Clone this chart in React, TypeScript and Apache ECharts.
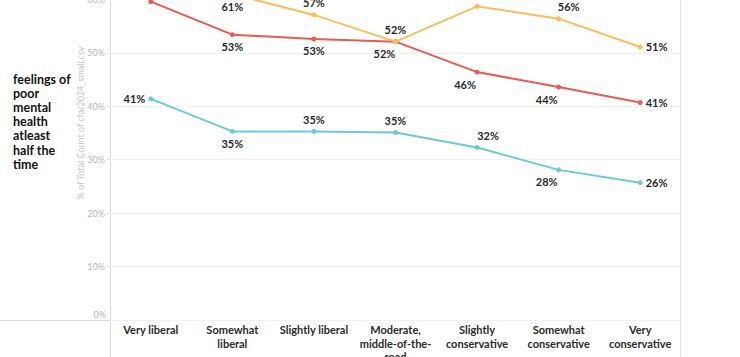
import React, { useEffect, useRef } from "react";
import * as echarts from "echarts";

const categories = [
  "Very liberal",
  "Somewhat\nliberal",
  "Slightly liberal",
  "Moderate,\nmiddle-of-the-\nroad",
  "Slightly\nconservative",
  "Somewhat\nconservative",
  "Very\nconservative",
];
const blueValues = [41.4, 35.3, 35.3, 35.1, 32.3, 28.1, 25.7];
const redValues = [59.6, 53.4, 52.6, 52.1, 46.4, 43.6, 40.7];
const orangeValues = [64.5, 61.0, 57.1, 52.1, 58.7, 56.4, 51.1];
const yTicks = [0, 10, 20, 30, 40, 50, 60, 70];

const rowHeader = "feelings of\npoor\nmental\nhealth\natleast\nhalf the\ntime";
const axisTitle = "% of Total Count of cfar2024_small.csv";

// label placement (style only)
const bluePlace: [string, number][] = [["left", 0], ["bottom", 0], ["top", 0], ["top", 0], ["top", 11], ["bottom", -12], ["right", 0]];
const redPlace: [string, number][] = [["top", 0], ["bottom", 0], ["bottom", 0], ["bottom", -11], ["bottom", -12], ["bottom", -12], ["right", 0]];
const orangePlace: [string, number][] = [["top", 0], ["bottom", 0], ["top", 0], ["top", 0], ["top", 0], ["top", 10], ["right", 0]];

const OFF = 60; // chart div shifted up
const FONT = "Lato, 'Open Sans', sans-serif";

function makeSeries(name: string, values: number[], color: string, place: [string, number][]) {
  return {
    name,
    type: "line",
    data: values.map((v, i) => ({
      value: v,
      label: {
        position: place[i][0],
        offset: [place[i][1], 0],
        distance: place[i][0] === "left" || place[i][0] === "right" ? 3 : 4,
      },
    })),
    symbol: "circle",
    symbolSize: 5,
    itemStyle: { color },
    lineStyle: { color, width: 2 },
    label: {
      show: true,
      formatter: (p: any) => Math.round(p.value) + "%",
      color: "#2a2a2a",
      fontWeight: "bold",
      fontSize: 11,
      fontFamily: FONT,
    },
  };
}

export default function App() {
  const ref = useRef<HTMLDivElement>(null);
  useEffect(() => {
    if (!ref.current) return;
    const chart = echarts.init(ref.current, undefined, { renderer: "svg" });
    chart.setOption({
      animation: false,
      backgroundColor: "#ffffff",
      grid: {
        left: 110,
        right: 59,
        top: 6,
        bottom: 37,
        containLabel: false,
        outerBoundsMode: "none",
      },
      xAxis: {
        type: "category",
        data: categories,
        boundaryGap: true,
        axisLine: { show: false },
        axisTick: { show: false },
        axisLabel: {
          interval: 0,
          margin: 3,
          color: "#2a2a2a",
          fontWeight: "bold",
          fontSize: 11,
          lineHeight: 13.5,
          fontFamily: FONT,
        },
      },
      yAxis: {
        type: "value",
        min: yTicks[0],
        max: yTicks[yTicks.length - 1],
        interval: 10,
        axisLine: { show: false },
        axisTick: { show: true, length: 3, lineStyle: { color: "#dddddd" } },
        axisLabel: {
          formatter: "{value}%",
          color: "#b5b5b5",
          fontSize: 9,
          margin: 5,
          fontFamily: FONT,
          showMinLabel: false,
        },
        splitLine: { lineStyle: { color: "#f1f1f1", width: 1 } },
      },
      series: [
        makeSeries("blue", blueValues, "#6ac9dc", bluePlace),
        makeSeries("red", redValues, "#e95a4f", redPlace),
        makeSeries("orange", orangeValues, "#fbbd5b", orangePlace),
      ],
      graphic: [
        {
          type: "line",
          silent: true,
          shape: { x1: 110.5, y1: 0, x2: 110.5, y2: 357 + OFF },
          style: { stroke: "#d9d9d9", lineWidth: 1 },
        },
        {
          type: "line",
          silent: true,
          shape: { x1: 680.5, y1: 0, x2: 680.5, y2: 357 + OFF },
          style: { stroke: "#e3e3e3", lineWidth: 1 },
        },
        {
          type: "line",
          silent: true,
          shape: { x1: 0, y1: 320.5 + OFF, x2: 681, y2: 320.5 + OFF },
          style: { stroke: "#d9d9d9", lineWidth: 1 },
        },
        {
          type: "text",
          silent: true,
          x: 106,
          y: 314 + OFF,
          style: {
            text: "0%",
            align: "right",
            verticalAlign: "middle",
            fill: "#b5b5b5",
            fontSize: 9,
            fontFamily: FONT,
          },
        },
        {
          type: "text",
          silent: true,
          x: 80,
          y: 123 + OFF,
          rotation: Math.PI / 2,
          style: {
            text: axisTitle,
            align: "center",
            verticalAlign: "middle",
            fill: "#c6c6c6",
            fontSize: 9,
            fontFamily: FONT,
          },
        },
        {
          type: "text",
          silent: true,
          x: 13,
          y: 72 + OFF,
          style: {
            text: rowHeader,
            align: "left",
            verticalAlign: "top",
            fill: "#111111",
            fontSize: 12.5,
            lineHeight: 14.2,
            fontWeight: "bold",
            fontFamily: FONT,
          },
        },
      ],
    });
    return () => chart.dispose();
  }, []);
  return (
    <div
      style={{
        position: "fixed",
        left: 0,
        top: 0,
        width: 740,
        height: 357,
        overflow: "hidden",
        background: "#fff",
      }}
    >
      <div ref={ref} style={{ position: "absolute", left: 0, top: -OFF, width: 740, height: 357 + OFF }} />
    </div>
  );
}
